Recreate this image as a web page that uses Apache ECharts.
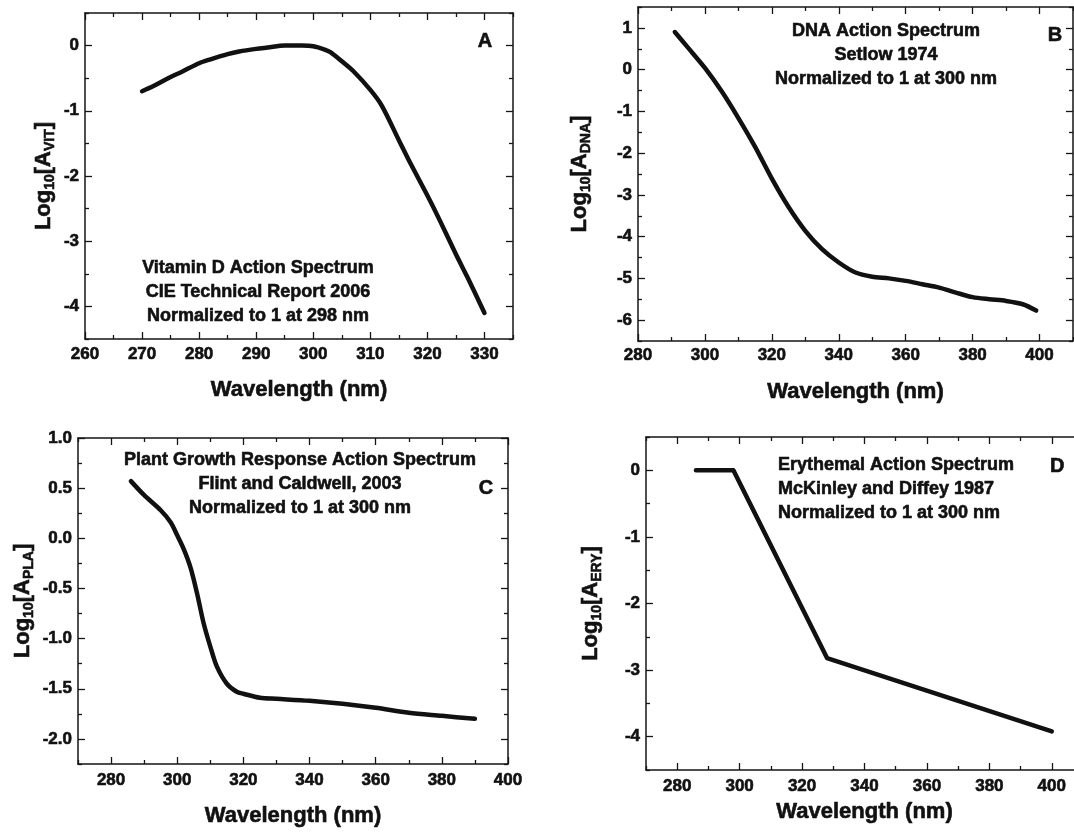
<!DOCTYPE html>
<html><head><meta charset="utf-8">
<script src="https://cdn.jsdelivr.net/npm/echarts@6/dist/echarts.min.js"></script>
<style>html,body{margin:0;padding:0;background:#fff}#c{width:1074px;height:835px}</style>
</head><body><div id="c"></div><script>
// ---------- DATA ----------
// Panel A: Vitamin D action spectrum (CIE 2006)
const vitWl  = [270, 272, 275, 277, 280, 282, 285, 287, 290, 292, 295, 298, 300, 302, 303, 305, 307, 310, 312, 315, 317, 320, 322, 325, 327, 330];
const vitLog = [-0.70, -0.62, -0.48, -0.40, -0.27, -0.21, -0.13, -0.09, -0.05, -0.03, 0.0, 0.0, -0.01, -0.06, -0.10, -0.24, -0.39, -0.68, -0.92, -1.45, -1.80, -2.30, -2.65, -3.20, -3.55, -4.10];
// Panel B: DNA action spectrum (Setlow 1974)
const dnaWl  = [291, 295, 300, 305, 310, 315, 320, 325, 330, 335, 340, 345, 350, 355, 360, 365, 370, 375, 380, 385, 390, 395, 399];
const dnaLog = [0.90, 0.52, 0.04, -0.52, -1.16, -1.85, -2.61, -3.29, -3.86, -4.30, -4.62, -4.86, -4.96, -5.00, -5.06, -5.14, -5.22, -5.34, -5.45, -5.50, -5.54, -5.62, -5.77];
// Panel C: Plant growth response (Flint and Caldwell 2003)
const plaWl  = [286, 290, 295, 298, 300, 302, 304, 306, 308, 310, 312, 315, 318, 320, 325, 330, 340, 350, 360, 370, 380, 390];
const plaLog = [0.57, 0.43, 0.28, 0.16, 0.03, -0.11, -0.29, -0.55, -0.85, -1.08, -1.28, -1.45, -1.53, -1.55, -1.59, -1.60, -1.62, -1.65, -1.69, -1.74, -1.77, -1.80];
// Panel D: Erythemal action spectrum (McKinley and Diffey 1987)
const eryWl  = [286, 298, 328, 400];
const eryLog = [0, 0, -2.82, -3.92];

// tick labels (major) and minor tick positions
const aXMajor = [260, 270, 280, 290, 300, 310, 320, 330];
const aXMinor = [265, 275, 285, 295, 305, 315, 325, 335];
const aYMajor = [0, -1, -2, -3, -4];
const aYMinor = [0.5, -0.5, -1.5, -2.5, -3.5, -4.5];
const bXMajor = [280, 300, 320, 340, 360, 380, 400];
const bXMinor = [290, 310, 330, 350, 370, 390, 410];
const bYMajor = [1, 0, -1, -2, -3, -4, -5, -6];
const bYMinor = [1.5, 0.5, -0.5, -1.5, -2.5, -3.5, -4.5, -5.5, -6.5];
const cXMajor = [280, 300, 320, 340, 360, 380, 400];
const cXMinor = [270, 290, 310, 330, 350, 370, 390];
const cYMajor = [1.0, 0.5, 0.0, -0.5, -1.0, -1.5, -2.0];
const cYMinor = [0.75, 0.25, -0.25, -0.75, -1.25, -1.75, -2.25];
const dXMajor = [280, 300, 320, 340, 360, 380, 400];
const dXMinor = [270, 290, 310, 330, 350, 370, 390, 410];
const dYMajor = [0, -1, -2, -3, -4];
const dYMinor = [0.5, -0.5, -1.5, -2.5, -3.5, -4.5];

// ---------- LAYOUT ----------
const FONT = '"Liberation Sans", Arial, sans-serif';
const INK = '#151515';
const HEAVY = {textBorderColor:'#111', textBorderWidth:0.6};
const panels = [
  {grid:{left:85, top:13, width:428, height:326}, x:[260,335], y:[-4.5,0.5],
   xMaj:aXMajor, xMin:aXMinor, yMaj:aYMajor, yMin:aYMinor, yFmt:v=>String(v),
   xLabMargin:7, xNameGap:40, yNameGap:28, sub:'VIT', wl:vitWl, val:vitLog, smooth:true},
  {grid:{left:638, top:7, width:435, height:334}, x:[280,410], y:[-6.5,1.5],
   xMaj:bXMajor, xMin:bXMinor, yMaj:bYMajor, yMin:bYMinor, yFmt:v=>String(v),
   xLabMargin:6, xNameGap:40, yNameGap:45, sub:'DNA', wl:dnaWl, val:dnaLog, smooth:true},
  {grid:{left:78, top:438, width:430, height:326}, x:[270,400], y:[-2.25,1.0],
   xMaj:cXMajor, xMin:cXMinor, yMaj:cYMajor, yMin:cYMinor, yFmt:v=>v.toFixed(1),
   xLabMargin:8, xNameGap:41, yNameGap:42, sub:'PLA', wl:plaWl, val:plaLog, smooth:true},
  {grid:{left:646, top:437, width:437, height:333}, x:[270,410], y:[-4.5,0.5],
   xMaj:dXMajor, xMin:dXMinor, yMaj:dYMajor, yMin:dYMinor, yFmt:v=>String(v),
   xLabMargin:8, xNameGap:31, yNameGap:42, sub:'ERY', wl:eryWl, val:eryLog, smooth:false}
];

function mkAxis(gi, pos, range, ticks, len, showLine, label, nameOpt) {
  const ax = {
    type:'value', gridIndex:gi, position:pos, min:range[0], max:range[1],
    axisLine:{show:showLine, onZero:false, lineStyle:{color:INK, width:1.5}},
    axisTick:{show:true, inside:true, length:len, customValues:ticks, lineStyle:{color:INK, width:1.3}},
    axisLabel: label ? Object.assign({show:true, customValues:ticks, fontSize:17, fontWeight:'bold', fontFamily:FONT, color:'#111'}, HEAVY, label) : {show:false},
    splitLine:{show:false}, minorTick:{show:false}, minorSplitLine:{show:false}, silent:true
  };
  if (nameOpt) Object.assign(ax, nameOpt);
  return ax;
}

const grids = [], xAxes = [], yAxes = [], series = [];
panels.forEach((p, gi) => {
  grids.push(Object.assign({outerBoundsMode:'none', containLabel:false}, p.grid));
  const xi = xAxes.length, yi = yAxes.length;
  xAxes.push(mkAxis(gi, 'bottom', p.x, p.xMaj, 7, true, {margin:p.xLabMargin, formatter:v=>String(v)}, {
    name:'Wavelength (nm)', nameLocation:'middle', nameGap:p.xNameGap,
    nameTextStyle:Object.assign({fontSize:22, fontWeight:'bold', fontFamily:FONT, color:'#111'}, HEAVY)}));
  xAxes.push(mkAxis(gi, 'bottom', p.x, p.xMin, 4, false, null));
  xAxes.push(mkAxis(gi, 'top', p.x, p.xMaj, 7, true, null));
  xAxes.push(mkAxis(gi, 'top', p.x, p.xMin, 4, false, null));
  yAxes.push(mkAxis(gi, 'left', p.y, p.yMaj, 7, true, {margin:6, formatter:p.yFmt}, {
    name:'{a|Log}{s|10}{a|[A}{s|' + p.sub + '}{a|]}', nameLocation:'middle', nameRotate:90, nameGap:p.yNameGap,
    nameTextStyle:{fontSize:22, fontWeight:'bold', fontFamily:FONT, color:'#111',
      rich:{a:Object.assign({fontSize:22, fontWeight:'bold', fontFamily:FONT, color:'#111', lineHeight:26}, HEAVY),
            s:Object.assign({fontSize:14, fontWeight:'bold', fontFamily:FONT, color:'#111', lineHeight:14, verticalAlign:'bottom'}, HEAVY)}}}));
  yAxes.push(mkAxis(gi, 'left', p.y, p.yMin, 4, false, null));
  yAxes.push(mkAxis(gi, 'right', p.y, p.yMaj, 7, true, null));
  yAxes.push(mkAxis(gi, 'right', p.y, p.yMin, 4, false, null));
  series.push({
    type:'line', xAxisIndex:xi, yAxisIndex:yi,
    data:p.wl.map((w,i)=>[w, p.val[i]]),
    showSymbol:false, symbol:'none', smooth:p.smooth ? 0.3 : false,
    lineStyle:{color:'#111', width:4.5, cap:'round', join:'round'}, silent:true, animation:false
  });
});

function txt(x, y, text, align, size) {
  return {type:'text', x:x, y:y, silent:true, style:{text:text, font:'bold ' + size + 'px ' + FONT,
    textAlign:align, textVerticalAlign:'top', lineHeight:24, fill:'#111', stroke:'#111', lineWidth:0.6}};
}
const graphic = [
  txt(258, 256, 'Vitamin D Action Spectrum\nCIE Technical Report 2006\nNormalized to 1 at 298 nm', 'center', 18),
  txt(886, 19, 'DNA Action Spectrum\nSetlow 1974\nNormalized to 1 at 300 nm', 'center', 18),
  txt(300, 448, 'Plant Growth Response Action Spectrum\nFlint and Caldwell, 2003\nNormalized to 1 at 300 nm', 'center', 18),
  txt(778, 453, 'Erythemal Action Spectrum\nMcKinley and Diffey 1987\nNormalized to 1 at 300 nm', 'left', 18),
  txt(485, 29, 'A', 'center', 20),
  txt(1055, 23, 'B', 'center', 20),
  txt(486, 476, 'C', 'center', 20),
  txt(1050, 454, 'D', 'left', 20)
];

const chart = echarts.init(document.getElementById('c'), null, {renderer:'canvas'});
chart.setOption({
  animation:false, backgroundColor:'#fff',
  grid:grids, xAxis:xAxes, yAxis:yAxes, series:series, graphic:graphic
});
</script></body></html>
